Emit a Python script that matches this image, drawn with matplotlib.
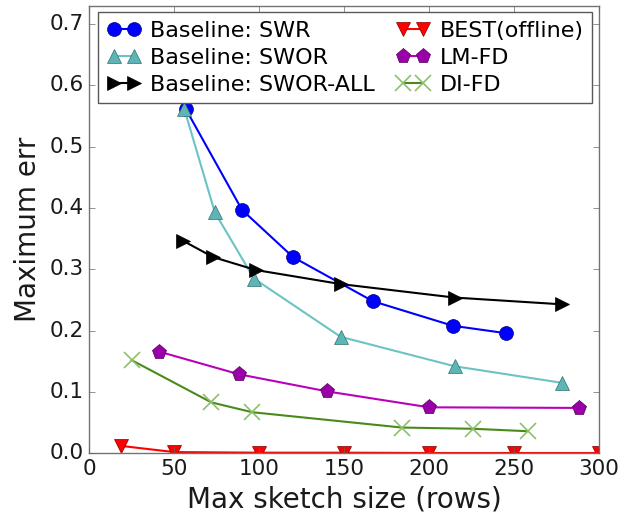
import matplotlib
matplotlib.use('Agg')
import matplotlib.pyplot as plt

plt.style.use('classic')
plt.rcParams['font.family'] = ['DejaVu Sans']

# values
swr_x = [57, 90, 120, 167, 214, 245]
swr_y = [0.561, 0.397, 0.320, 0.248, 0.208, 0.196]

swor_x = [56, 74, 97, 148, 215, 278]
swor_y = [0.562, 0.393, 0.285, 0.190, 0.142, 0.115]

sworall_x = [55, 73, 98, 148, 215, 278]
sworall_y = [0.347, 0.320, 0.299, 0.276, 0.254, 0.243]

best_x = [19, 50, 100, 150, 200, 250, 300]
best_y = [0.012, 0.002, 0.001, 0.001, 0.0005, 0.0005, 0.0005]

lmfd_x = [41, 88, 140, 200, 288]
lmfd_y = [0.166, 0.129, 0.101, 0.075, 0.074]

difd_x = [25, 72, 96, 184, 226, 258]
difd_y = [0.152, 0.083, 0.067, 0.042, 0.040, 0.036]

fig = plt.figure(figsize=(6.23, 5.14), dpi=100, facecolor='white')
ax = fig.add_axes([0.1429, 0.1181, 0.8186, 0.8708])

ax.plot(swr_x, swr_y, '-o', color='blue', mfc='blue', mec='#000080', ms=10, lw=1.5, label='Baseline: SWR')
ax.plot(swor_x, swor_y, '-^', color='#6cc3c3', mfc='#5fb5b5', mec='#2f6f6f', ms=10, lw=1.5, label='Baseline: SWOR')
ax.plot(sworall_x, sworall_y, '->', color='black', mfc='black', mec='black', ms=10, lw=1.5, label='Baseline: SWOR-ALL')
ax.plot(best_x, best_y, '-v', color='red', mfc='red', mec='#800000', ms=10, lw=1.5, label='BEST(offline)')
ax.plot(lmfd_x, lmfd_y, '-p', color='#bb00bb', mfc='#9900aa', mec='#550055', ms=11, lw=1.5, label='LM-FD')
ax.plot(difd_x, difd_y, '-x', color='#4a8a1c', mfc='none', mec='#8dc06a', mew=1.2, ms=12, lw=1.5, label='DI-FD')

ax.set_xlim(0, 300)
ax.set_ylim(0, 0.73)
ax.set_xticks([0, 50, 100, 150, 200, 250, 300])
ax.set_yticks([0.0, 0.1, 0.2, 0.3, 0.4, 0.5, 0.6, 0.7])
ax.tick_params(labelsize=15.5, colors='0.4', labelcolor='0.1')
for s in ax.spines.values():
    s.set_color('0.45')
ax.set_xlabel('Max sketch size (rows)', fontsize=20, color='0.1')
ax.set_ylabel('Maximum err', fontsize=20, color='0.1')

leg = ax.legend(loc='upper right', ncol=2, numpoints=2, fontsize=16,
                handlelength=1.5, handletextpad=0.45, columnspacing=0.95,
                borderaxespad=0.3, labelspacing=0.3, borderpad=0.4)
leg.get_frame().set_edgecolor('0.35')

fig.savefig('out.png', dpi=100, facecolor='white')
